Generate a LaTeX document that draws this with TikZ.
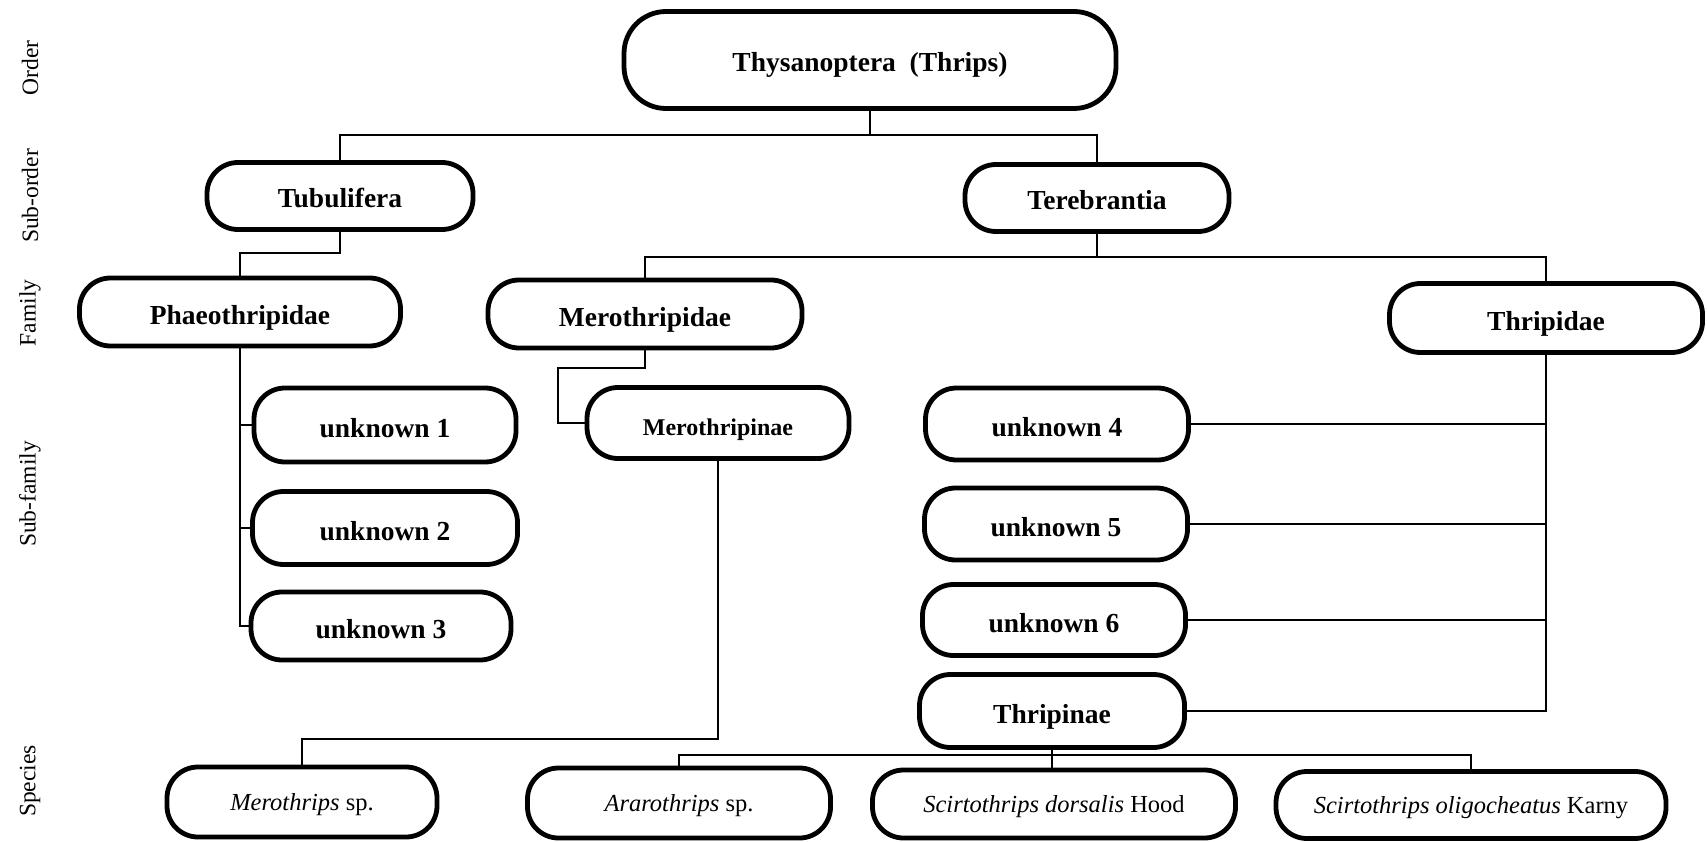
\documentclass[tikz,border=0pt]{standalone}
\usepackage{fontspec}
\setmainfont{Liberation Serif}
\usetikzlibrary{calc}
\begin{document}
\begin{tikzpicture}[x=1pt,y=-1pt,
  box/.style={draw, line width=4.8pt, rounded corners=31pt, inner sep=0pt,
    text height=24pt, text depth=0pt,
    font=\bfseries\fontsize{27.5}{30}\selectfont},
  sbox/.style={draw, line width=4.8pt, rounded corners=31pt, inner sep=0pt,
    text height=17pt, text depth=1pt,
    font=\fontsize{24.5}{28}\selectfont},
  sz/.style 2 args={minimum width=#1pt, minimum height=#2pt},
  conn/.style={line width=2pt},
  lev/.style={rotate=90, font=\fontsize{23.5}{26}\selectfont}]
\useasboundingbox (0,0) rectangle (1707,842);

% level labels
\node[lev] (lOrder) at (30,68) {Order};
\node[lev] (lSub) at (30,196) {Sub-order};
\node[lev] (lFam) at (30,313) {Family};
\node[lev] (lSubf) at (30,494) {Sub-family};
\node[lev] (lSpec) at (30,781) {Species};

% boxes
\node[box, sz={492}{97}, rounded corners=42pt] (top) at (870,60) {Thysanoptera\ \ (Thrips)};
\node[box, sz={266}{67}] (tub) at (340,196) {Tubulifera};
\node[box, sz={264}{67}] (ter) at (1097,198) {Terebrantia};
\node[box, sz={321}{68}] (phae) at (240,312) {Phaeothripidae};
\node[box, sz={314}{68}] (mer) at (645,314) {Merothripidae};
\node[box, sz={313}{69}] (thr) at (1546,318) {Thripidae};
\node[box, sz={262}{74}] (u1) at (385,425) {unknown 1};
\node[box, sz={265}{73}] (u2) at (385,528) {unknown 2};
\node[box, sz={260}{68}] (u3) at (381,626) {unknown 3};
\node[box, sz={262}{71}, font=\bfseries\fontsize{24}{27}\selectfont] (mthp) at (718,423) {Merothripinae};
\node[box, sz={263}{72}] (u4) at (1057,424) {unknown 4};
\node[box, sz={263}{72}] (u5) at (1056,524) {unknown 5};
\node[box, sz={263}{71}] (u6) at (1054,620) {unknown 6};
\node[box, sz={265}{73}] (thrp) at (1052,711) {Thripinae};
\node[sbox, sz={270}{70}] (mers) at (302,802) {\textit{Merothrips} sp.};
\node[sbox, sz={303}{70}] (ara) at (679,803) {\textit{Ararothrips} sp.};
\node[sbox, sz={363}{68}] (dors) at (1054,804) {\textit{Scirtothrips dorsalis} Hood};
\node[sbox, sz={390}{67}] (olig) at (1471,805) {\textit{Scirtothrips oligocheatus} Karny};

% connectors
\draw[conn] (top.south) -- ++(0,24) coordinate (j1);
\draw[conn] (tub.north) |- (j1) -| (ter.north);
\draw[conn] (tub.south) -- ++(0,21) -| (phae.north);
\draw[conn] (ter.south) -- ++(0,23) coordinate (j2);
\draw[conn] (mer.north) |- (j2) -| (thr.north);
\draw[conn] (phae.south) |- (u1.west);
\draw[conn] (phae.south) |- (u2.west);
\draw[conn] (phae.south) |- (u3.west);
\draw[conn] (mer.south) -- ++(0,18) -- ++(-87,0) |- (mthp.west);
\draw[conn] (mthp.south) |- ($(mers.north)+(0,-26)$) -- (mers.north);
\draw[conn] (thr.south) |- (u4.east);
\draw[conn] (thr.south) |- (u5.east);
\draw[conn] (thr.south) |- (u6.east);
\draw[conn] (thr.south) |- (thrp.east);
\draw[conn] (thrp.south) -- ++(0,5) coordinate (j3) -- (thrp.south |- dors.north);
\draw[conn] (ara.north) |- (j3) -| (olig.north);
\end{tikzpicture}
\end{document}
